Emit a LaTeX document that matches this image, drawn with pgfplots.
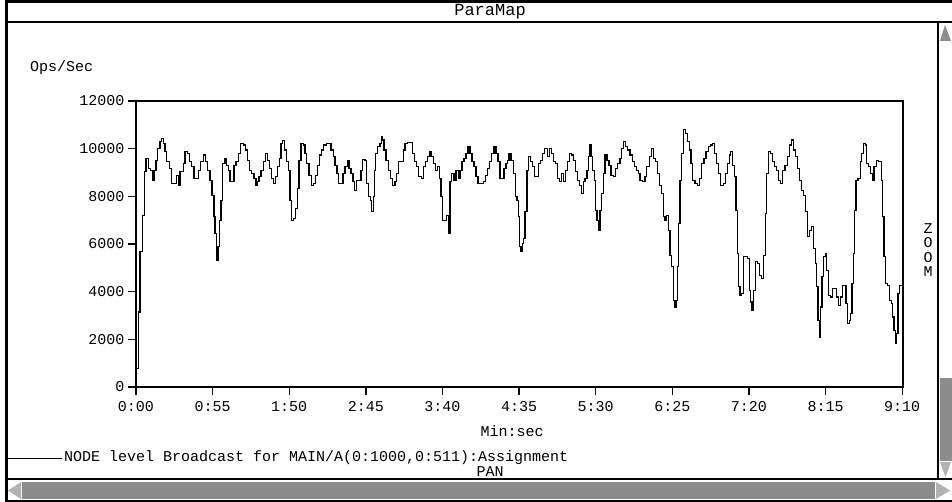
\documentclass[border=0pt]{standalone}
\usepackage{fontspec}
\setmainfont{Liberation Mono}
\usepackage{pgfplots}
\pgfplotsset{compat=1.18}

\newcommand{\uifont}{\fontsize{15}{15}\selectfont}
\newcommand{\titlefont}{\fontsize{17}{18}\selectfont}

\begin{document}
\begin{tikzpicture}
% window decoration, in screen pixels (y down)
\begin{scope}[x=1pt,y=-1pt]
\useasboundingbox (0,0) rectangle (952,502);
\fill[white] (0,0) rectangle (952,502);
\draw[line width=2.5pt] (5,1.5) -- (952,1.5);
\draw[line width=3pt] (6,0) -- (6,502);
\draw[line width=2pt] (5,22) -- (952,22);
\node[font=\titlefont] at (490,12) {ParaMap};
% vertical scrollbar
\draw[line width=1.5pt] (938,22) -- (938,479);
\fill[black!45] (945,25) -- (940,41) -- (951,41) -- cycle;
\fill[black!45] (940,378) rectangle (952,461);
\fill[black!30] (940,462) -- (951,462) -- (945.5,477) -- cycle;
\foreach \ch/\yy in {Z/229,O/243,O/258,M/272}
  \node[font=\uifont, inner sep=0pt] at (928,\yy) {\ch};
% bottom scrollbar
\draw[line width=1.5pt] (5,479) -- (952,479);
\fill[black!45] (22,482) rectangle (935,499);
\fill[black!30] (8,490.5) -- (21,482) -- (21,499) -- cycle;
\fill[black!30] (950,490.5) -- (936,482) -- (936,499) -- cycle;
\draw[line width=1.5pt] (5,501) -- (952,501);
% labels
\node[font=\uifont, anchor=west, inner sep=0pt] at (30,68) {Ops/Sec};
\node[font=\uifont, inner sep=0pt] at (512,431) {Min:sec};
\draw[line width=1pt] (6,458) -- (62,458);
\node[font=\uifont, anchor=west, inner sep=0pt] at (64,458)
  {NODE level Broadcast for MAIN/A(0:1000,0:511):Assignment};
\node[font=\uifont, inner sep=0pt] at (490,472) {PAN};
\end{scope}

\begin{axis}[
    scale only axis, width=767pt, height=286pt,
    at={(136pt,-387pt)}, anchor=south west,
    xmin=0, xmax=550.6, ymin=0, ymax=12000,
    xtick={0,55,110,165,220,275,330,385,440,495,550},
    xticklabels={0:00,0:55,1:50,2:45,3:40,4:35,5:30,6:25,7:20,8:15,9:10},
    ytick={0,2000,4000,6000,8000,10000,12000},
    scaled y ticks=false,
    /pgf/number format/assume math mode=true,
    yticklabel style={/pgf/number format/1000 sep={}},
    xticklabel style={yshift=-3pt},
    tick label style={font=\uifont},
    tick align=outside, major tick length=8pt,
    every tick/.style={black, line width=1.3pt},
    axis line style={line width=1.3pt},
    xtick pos=bottom, ytick pos=left,
]
\addplot[const plot, black, line width=1.2pt] coordinates {
(0,0) (0.3,770) (1.7,3150) (2.9,5670) (4.8,7210) (6.0,9030) (7.2,9590) (8.9,9170)
(10.5,9100) (11.7,8680) (12.9,9100) (14.4,9520) (15.3,10010) (17.2,10290) (18.4,10430)
(19.6,10220) (20.8,9870) (22.0,9450) (23.9,9170) (25.4,8540) (27.3,8540) (29.2,8890)
(30.4,8470) (31.6,9030) (34.0,9380) (35.2,9870) (36.8,9800) (38.3,9450) (40.0,9240)
(41.6,8750) (43.1,8750) (44.7,9100) (46.4,9450) (48.3,9730) (49.8,9450) (51.2,9100)
(53.1,8680) (54.6,8050) (56.0,7140) (56.7,6440) (57.7,5320) (58.9,5880) (59.8,7000)
(61.0,7840) (62.2,9380) (63.9,9590) (65.1,9310) (66.5,9100) (67.5,8610) (68.9,8610)
(70.3,9310) (71.8,9450) (73.5,9800) (75.1,10220) (77.0,10150) (78.5,9940) (79.9,9520)
(81.4,9100) (83.0,8960) (84.7,8750) (86.1,8470) (87.0,8610)
(88.3,8820) (89.7,9100) (91.4,9450) (93.1,9800) (94.5,9520) (95.7,9170) (97.4,8750)
(98.8,8540) (100.3,8820) (101.5,9240) (102.9,9590) (104.1,10220) (105.0,10330)
(106.5,9940) (107.9,9450) (109.4,9100) (110.6,7840) (111.7,7000) (113.2,7070)
(114.6,7490) (115.8,8330) (117.0,9520) (118.5,10220) (120.1,10150) (121.3,9800)
(122.5,9380) (124.2,8890) (126.1,8470) (127.5,8540) (129.0,8890) (130.4,9310)
(131.9,9730) (133.3,9940) (134.7,10150) (136.6,10220) (138.6,10220) (140.0,9940)
(141.7,9660) (142.9,9310) (144.3,8960) (145.3,8540) (147.2,8540) (148.6,8960)
(150.0,9240) (151.7,9520) (152.9,9170) (154.3,8960) (155.8,8610) (156.7,8260)
(158.2,8680) (160.1,8680) (161.5,9100) (162.5,9550) (164.4,9520) (165.6,8540)
(166.8,7980) (168.2,7840) (169.2,7350) (170.4,7980) (171.1,9100) (172.0,9800)
(173.5,10080) (175.2,10220) (176.4,10500) (177.2,10360)
(178.0,9940) (179.5,9520) (181.1,9100) (182.8,8750) (184.3,8470) (185.9,8610)
(187.1,8960) (188.6,9450) (190.2,9450) (191.9,9940) (193.1,10220) (194.8,10250)
(197.2,10250) (198.6,9800) (200.0,9450) (201.5,9240) (202.9,8820) (204.8,8750)
(206.3,9240) (207.7,9450) (209.1,9660) (210.6,9870) (211.8,9660) (213.4,9380)
(214.9,9100) (216.3,9240) (217.8,8750) (218.9,7980) (220.1,7000) (221.8,7000)
(223.0,7210) (224.2,6440) (225.4,8610) (226.6,8960) (228.3,8680) (229.7,9100)
(231.4,8750) (232.6,9100) (234.0,9450) (235.5,9590) (236.9,9800) (238.3,10080)
(239.8,9800) (241.2,9450) (242.6,9240) (244.1,8820) (245.5,8540) (247.4,8540)
(249.3,8610) (250.8,8890) (252.2,9170) (253.7,9450) (255.3,9800) (257.0,10080)
(258.4,9800) (259.9,9450) (261.3,8750) (262.7,8750) (264.2,9170) (265.6,9380)
(266.8,9520) (267.8,9800) (269.2,9520) (270.9,8960) (272.6,7980) (273.5,7840)
(274.5,7140) (275.4,5880) (276.4,5670) (277.3,6020) (278.3,6230) (279.3,7350)
(280.7,9100) (281.7,9660) (283.1,9450) (284.5,9240) (286.0,8820) (287.6,8820)
(288.8,9380) (290.3,9520) (291.7,9800) (293.1,10010) (294.6,10010) (295.5,9660)
(297.0,10010) (298.4,9800) (299.8,9450) (301.3,9380) (302.7,8750) (304.1,8610)
(305.6,8960) (307.0,8610) (308.5,9100) (309.9,9450) (311.3,9800) (312.8,9730)
(314.2,9520) (315.6,9030) (317.1,8680) (318.5,8470) (319.9,8120) (321.4,8610)
(322.3,8750) (323.8,9100) (324.7,9660) (325.9,10150) (326.6,9660) (327.6,9100)
(329.0,8680) (330.0,7420) (330.9,7000) (331.9,6580) (333.1,7420) (334.3,8120)
(335.5,8960) (336.7,9730) (338.1,9520) (339.6,9310) (341.0,8890) (342.7,8820)
(344.3,9170) (345.8,9380) (347.5,9590) (348.7,10010) (350.1,10290) (351.5,10080)
(353.0,9940) (354.6,9730) (356.3,9450) (357.7,9240) (359.2,9100)
(360.6,8960) (361.8,8680) (363.7,8610) (365.4,8820) (366.6,9240) (368.5,9660)
(370.2,10010) (371.4,9590) (372.8,9450) (374.3,8960) (375.7,8470) (377.4,8120)
(378.6,7140) (379.8,7000) (381.0,7210) (382.2,6580) (383.4,5530) (384.6,5040)
(385.8,3640) (386.7,3360) (387.7,3640) (388.6,5040) (389.6,6860) (390.5,8680)
(391.5,9800) (392.9,10810) (394.4,10640) (395.8,10290) (397.2,9940) (398.4,9380)
(399.6,8680) (401.3,8540) (403.0,8470) (404.4,8750)
(406.1,9380) (407.8,9590) (409.2,9870) (410.9,10080) (412.6,10150) (414.0,10220)
(415.4,9800) (416.9,9380) (418.3,8960) (419.7,8470) (421.7,8540) (423.1,8960)
(424.5,9380) (426.0,9730) (426.9,9870) (428.3,9310) (429.8,8820) (430.7,7420)
(431.7,5600) (432.7,4200) (433.6,3850) (434.8,3920) (436.0,5460) (437.4,5460)
(438.9,5390) (440.3,4060) (441.3,3570) (442.2,3220) (443.2,4060) (444.6,5250)
(446.1,5180) (447.5,4690) (448.9,4550) (450.4,5530) (451.6,7280) (452.8,8960)
(453.9,9870) (455.6,9800) (457.1,9450) (458.5,9240) (459.9,9100) (461.4,8680)
(462.8,8540) (464.3,9100) (465.9,9310) (467.6,9660) (469.0,10150) (470.7,10360)
(471.9,9940) (473.3,9660) (474.8,9170) (476.2,8680) (477.6,8260) (479.1,8050)
(480.5,7350) (482.0,6300) (483.4,6580) (484.8,6720) (486.3,5810) (487.7,5180)
(488.7,4200) (489.6,2800) (490.6,2100) (491.5,3360) (492.5,4620) (493.4,5460)
(494.9,5600) (495.8,4900) (497.3,3850) (498.7,3780) (500.1,4130) (501.6,4130)
(503.0,3780) (504.5,3430) (505.9,3780) (507.3,4270) (508.8,4270) (509.7,3500)
(510.7,2660) (512.1,2800) (513.1,3080) (514.0,4340) (515.0,5600) (515.9,7420)
(516.9,8680) (518.3,8750) (519.8,9450) (521.0,9800) (522.2,10220) (523.4,10150)
(524.5,9380) (526.0,9240) (527.4,8960) (528.9,8680) (529.8,9240) (531.3,9520)
(532.9,9450) (534.1,9450) (535.3,8680) (536.0,7140) (537.0,5460) (537.9,4340)
(539.4,4270) (540.8,3640) (542.3,3500) (543.2,2940) (544.2,2380) (545.1,1820)
(546.1,2240) (547.0,3920) (548.0,4270) (550.6,4270)
};
\end{axis}
\end{tikzpicture}
\end{document}
